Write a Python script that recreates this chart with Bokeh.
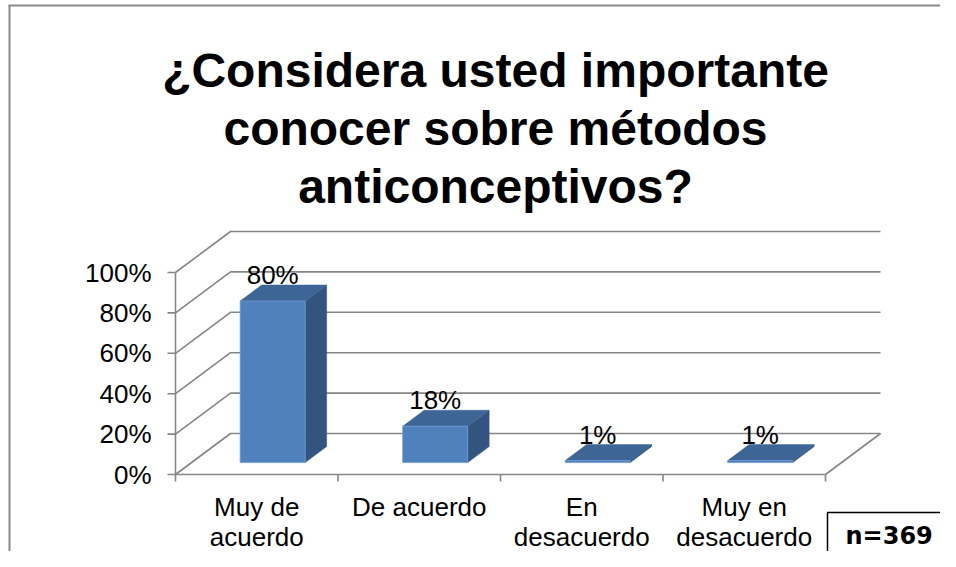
from bokeh.plotting import figure
from bokeh.models import Range1d
from bokeh.core.properties import value
from bokeh.embed import file_html
from bokeh.resources import INLINE

# ---- data ----
categories = ["Muy de\nacuerdo", "De acuerdo", "En\ndesacuerdo", "Muy en\ndesacuerdo"]
values = [80, 18, 1, 1]
y_ticks = [0, 20, 40, 60, 80, 100]
y_tick_labels = ["0%", "20%", "40%", "60%", "80%", "100%"]
title_lines = ["¿Considera usted importante", "conocer sobre métodos", "anticonceptivos?"]
note_text = "n=369"

# ---- layout constants (pixel geometry of the picture) ----
W, H = 940, 551
OFF = 0
AX_X_PX, AX_Y_PX = 175, 474      # front-left corner of floor
PX_CAT, PX_PCT = 162.5, 2.02     # pixels per category, per percent


def xd(px):
    return (px - AX_X_PX) / PX_CAT


def yd(py):
    return (AX_Y_PX - py) / PX_PCT


DEPTH_X = 55 / PX_CAT
DEPTH_Y = 41 / PX_PCT
F0, F1 = 0.29, 0.68            # bar depth placement (fraction of floor depth)
BAR_L, BAR_R = 0.3, 0.7        # bar width within category
LABEL_GAP = 5                  # data label gap above bar top (percent units)

GRID = "#868686"
FRONT = "#4F81BD"
TOP = "#3D6697"
SIDE = "#32547F"
FONT = "Liberation Sans"

p = figure(width=W, height=H, output_backend="svg", toolbar_location=None,
           x_range=Range1d(xd(OFF), xd(OFF + W)),
           y_range=Range1d(yd(OFF + H), yd(OFF)),
           x_axis_type=None, y_axis_type=None, min_border=0)
p.grid.visible = False
p.outline_line_color = None
p.background_fill_color = "white"

n = len(categories)

# chart border
p.line([xd(9), xd(9)], [yd(4.5), yd(600)], line_color="#8a8a8a", line_width=2)
p.line([xd(8), xd(990)], [yd(5), yd(5)], line_color="#8a8a8a", line_width=2)

# back wall + side wall gridlines
gx, gy = [], []
for t in y_ticks:
    gx.append([0, DEPTH_X, n + DEPTH_X])
    gy.append([t, t + DEPTH_Y, t + DEPTH_Y])
p.multi_line(gx, gy, line_color=GRID, line_width=1.6)

# floor edges + front vertical axis
p.multi_line([[0, n], [n, n + DEPTH_X], [0, 0]],
             [[0, 0], [0, DEPTH_Y], [0, y_ticks[-1]]],
             line_color=GRID, line_width=1.6)

# y ticks
p.multi_line([[xd(167), 0] for t in y_ticks], [[t, t] for t in y_ticks],
             line_color=GRID, line_width=1.6)
# x ticks at category boundaries
p.multi_line([[i, i] for i in range(n + 1)], [[0, yd(481)] for i in range(n + 1)],
             line_color=GRID, line_width=1.6)

# bars (3D)
fx, fy, tx, ty, sx, sy = [], [], [], [], [], []
for i, v in enumerate(values):
    L0 = i + BAR_L + F0 * DEPTH_X
    R0 = i + BAR_R + F0 * DEPTH_X
    B0 = F0 * DEPTH_Y
    T0 = v + F0 * DEPTH_Y
    ddx = (F1 - F0) * DEPTH_X
    ddy = (F1 - F0) * DEPTH_Y
    fx.append([L0, R0, R0, L0]); fy.append([B0, B0, T0, T0])
    tx.append([L0, R0, R0 + ddx, L0 + ddx]); ty.append([T0, T0, T0 + ddy, T0 + ddy])
    sx.append([R0, R0 + ddx, R0 + ddx, R0]); sy.append([B0, B0 + ddy, T0 + ddy, T0])
p.patches(sx, sy, fill_color=SIDE, line_color=SIDE, line_width=0.5)
p.patches(tx, ty, fill_color=TOP, line_color=TOP, line_width=0.5)
p.patches(fx, fy, fill_color=FRONT, line_color="#6f9ad0", line_width=0.8)

# data labels
p.text(x=[i + 0.5 + F0 * DEPTH_X for i in range(n)],
       y=[v + F1 * DEPTH_Y + LABEL_GAP for v in values],
       text=[f"{v}%" for v in values],
       text_align="center", text_baseline="middle",
       text_font=value(FONT), text_font_size="26px", text_color="black")

# y tick labels
p.text(x=[xd(151)] * len(y_ticks), y=y_ticks, text=y_tick_labels,
       text_align="right", text_baseline="middle",
       text_font=value(FONT), text_font_size="26px", text_color="black")

# category labels (split into lines)
lx, ly, lt = [], [], []
for i, c in enumerate(categories):
    for k, line in enumerate(c.split("\n")):
        lx.append(i + 0.5)
        ly.append(yd(506 + 30 * k))
        lt.append(line)
p.text(x=lx, y=ly, text=lt, text_align="center", text_baseline="middle",
       text_font=value(FONT), text_font_size="26px", text_color="black")

# title
p.text(x=[xd(495)] * 3, y=[yd(70), yd(128), yd(186)], text=title_lines,
       text_align="center", text_baseline="middle",
       text_font=value(FONT), text_font_size="48px", text_font_style="bold",
       text_color="black")

# n box
p.quad(left=[xd(827)], right=[xd(990)], top=[yd(512)], bottom=[yd(620)],
       fill_color="white", line_color="black", line_width=1.5)
p.text(x=[xd(845)], y=[yd(535)], text=[note_text], text_align="left",
       text_baseline="middle", text_font=value("DejaVu Sans"),
       text_font_size="24px", text_font_style="bold", text_color="black")

open("out.html", "w").write(file_html(p, INLINE))
